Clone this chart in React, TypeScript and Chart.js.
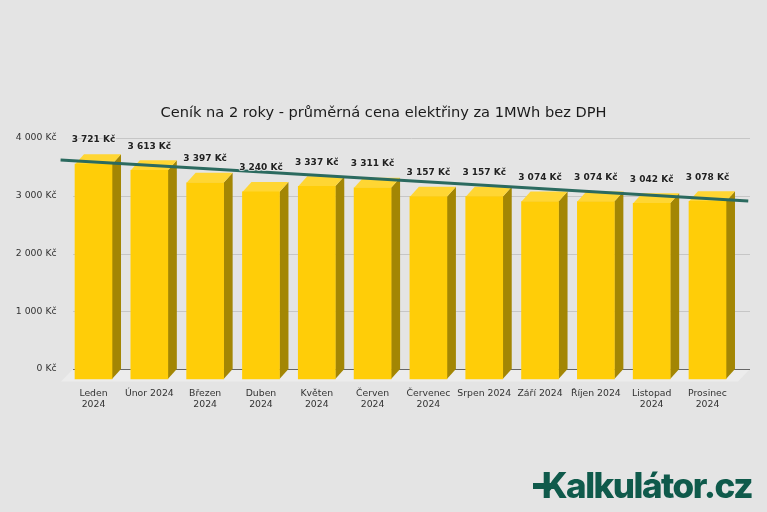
import React, { useEffect, useRef } from "react";
import { Chart, registerables } from "chart.js";

Chart.register(...registerables);

const months: (string | string[])[] = [
  ["Leden", "2024"], "Únor 2024", ["Březen", "2024"], ["Duben", "2024"], ["Květen", "2024"], ["Červen", "2024"],
  ["Červenec", "2024"], "Srpen 2024", "Září 2024", "Říjen 2024", ["Listopad", "2024"], ["Prosinec", "2024"],
];
const prices = [3721, 3613, 3397, 3240, 3337, 3311, 3157, 3157, 3074, 3074, 3042, 3078];
const trendX = [-0.59, 11.73];
const trendY = [3618, 2910];
const yTicks = [0, 1000, 2000, 3000, 4000];
const titleText = "Ceník na 2 roky - průměrná cena elektřiny za 1MWh bez DPH";
const logoText = "Kalkulátor.cz";

const FONT = "'DejaVu Sans'";
const BG = "#e4e4e4";
const DX = 9;
const DY = 10;
const fmt = (v: number) => {
  const s = String(v);
  return (s.length > 3 ? s.slice(0, -3) + " " + s.slice(-3) : s) + " Kč";
};

const scenePlugin = {
  id: "scene",
  beforeDatasetsDraw(chart: any) {
    const { ctx } = chart;
    const y = chart.scales.y;
    const x0 = chart.chartArea.left + 7.5;
    const x1 = 750;
    const base = y.getPixelForValue(0);
    ctx.save();
    ctx.fillStyle = "#ececec";
    ctx.beginPath();
    ctx.moveTo(x0, base);
    ctx.lineTo(x1, base);
    ctx.lineTo(x1 - 12, base + 12.5);
    ctx.lineTo(x0 - 12, base + 12.5);
    ctx.closePath();
    ctx.fill();
    yTicks.forEach((t) => {
      const py = Math.round(y.getPixelForValue(t)) + 0.5;
      ctx.strokeStyle = t === 0 ? "#666666" : "#c6c6c6";
      ctx.lineWidth = 1;
      ctx.beginPath();
      ctx.moveTo(x0, py);
      ctx.lineTo(x1, py);
      ctx.stroke();
    });
    ctx.restore();
  },
  beforeDatasetDraw(chart: any, args: any) {
    if (chart.data.datasets[args.index].type !== "bar") return;
    const { ctx } = chart;
    ctx.save();
    ctx.translate(0, DY);
    args.meta.data.forEach((b: any) => {
      const l = b.x - b.width / 2;
      const r = b.x + b.width / 2;
      ctx.fillStyle = "#a38604";
      ctx.beginPath();
      ctx.moveTo(r, b.y);
      ctx.lineTo(r + DX, b.y - DY);
      ctx.lineTo(r + DX, b.base - DY);
      ctx.lineTo(r, b.base);
      ctx.closePath();
      ctx.fill();
      ctx.fillStyle = "#ffd633";
      ctx.beginPath();
      ctx.moveTo(l, b.y);
      ctx.lineTo(l + DX, b.y - DY);
      ctx.lineTo(r + DX, b.y - DY);
      ctx.lineTo(r, b.y);
      ctx.closePath();
      ctx.fill();
    });
  },
  afterDatasetDraw(chart: any, args: any) {
    if (chart.data.datasets[args.index].type !== "bar") return;
    chart.ctx.restore();
  },
  afterDatasetsDraw(chart: any) {
    const { ctx } = chart;
    const idx = chart.data.datasets.findIndex((d: any) => d.type === "bar");
    const meta = chart.getDatasetMeta(idx);
    ctx.save();
    ctx.font = `bold 9px ${FONT}`;
    ctx.textAlign = "center";
    ctx.textBaseline = "middle";
    ctx.lineJoin = "round";
    meta.data.forEach((b: any, i: number) => {
      const px = b.x;
      const py = b.y - 14;
      const s = fmt(prices[i]);
      ctx.strokeStyle = "rgba(232,232,232,0.8)";
      ctx.lineWidth = 2;
      ctx.strokeText(s, px, py);
      ctx.fillStyle = "#222222";
      ctx.fillText(s, px, py);
    });
    ctx.restore();

    // brand
    ctx.save();
    ctx.fillStyle = "#0f5a4b";
    ctx.font = "800 35px Inter";
    ctx.letterSpacing = "-1.5px";
    ctx.textAlign = "right";
    ctx.textBaseline = "alphabetic";
    ctx.fillText(logoText, 752, 498);
    ctx.fillRect(533, 483, 23, 6);
    ctx.restore();
  },
};

export default function App() {
  const ref = useRef<HTMLCanvasElement>(null);
  useEffect(() => {
    document.body.style.margin = "0";
    document.body.style.background = BG;
    const chart = new Chart(ref.current!, {
      type: "bar",
      data: {
        labels: months as any,
        datasets: [
          {
            type: "line",
            data: trendX.map((x, i) => ({ x, y: trendY[i] })),
            xAxisID: "x2",
            yAxisID: "y",
            borderColor: "#2b6a5f",
            borderWidth: 3,
            pointRadius: 0,
            clip: false,
            order: 0,
          } as any,
          {
            type: "bar",
            data: prices,
            backgroundColor: "#ffcd08",
            barThickness: 37,
            grouped: false,
            clip: false,
            order: 1,
          } as any,
        ],
      },
      options: {
        responsive: false,
        animation: false,
        layout: { padding: 0 },
        plugins: {
          legend: { display: false },
          tooltip: { enabled: false },
          title: {
            display: true,
            text: titleText,
            color: "#1a1a1a",
            font: { family: FONT, size: 14.6, weight: "normal" },
            padding: { top: 104, bottom: 16.5 },
          },
        },
        scales: {
          x: {
            offset: true,
            grid: { display: false, drawTicks: false },
            border: { display: false },
            afterFit: (s: any) => { s.height = 143; },
            ticks: {
              color: "#333333",
              font: { family: FONT, size: 9.3 },
              padding: 19,
              maxRotation: 0,
              autoSkip: false,
            },
          },
          x2: { type: "linear", display: false, offset: false, min: -0.5, max: 11.5 },
          y: {
            min: 0,
            max: 4000,
            afterFit: (s: any) => { s.width = 65.6; },
            grid: { display: false, drawTicks: false },
            border: { display: false },
            ticks: {
              stepSize: 1000,
              color: "#333333",
              font: { family: FONT, size: 9.3 },
              padding: 9,
              callback: (v: any) => fmt(Number(v)),
            },
          },
          yRight: {
            position: "right",
            min: 0,
            max: 4000,
            afterFit: (s: any) => { s.width = 31.6; },
            grid: { display: false, drawTicks: false },
            border: { display: false },
            ticks: { display: false },
          },
        },
      },
      plugins: [scenePlugin],
    } as any);
    return () => chart.destroy();
  }, []);
  return (
    <div style={{ width: 767, height: 512, background: BG }}>
      <canvas ref={ref} width={767} height={512} style={{ display: "block" }} />
    </div>
  );
}
